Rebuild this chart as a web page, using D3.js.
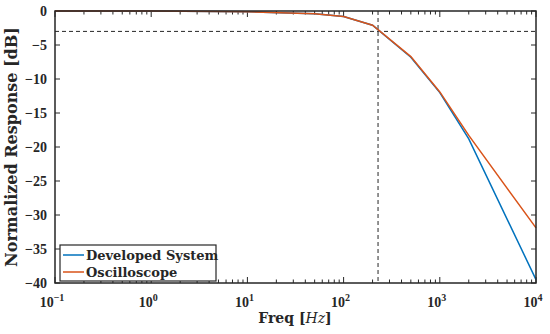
<!DOCTYPE html>
<html>
<head>
<meta charset="utf-8">
<script src="https://cdn.jsdelivr.net/npm/d3@7"></script>
<style>
  body { margin: 0; background: #fff; }
  text { font-family: "DejaVu Serif", serif; font-weight: bold; fill: #262626; }
  .tick-label { font-family: "Liberation Serif", serif; }
</style>
</head>
<body>
<div id="chart"></div>
<script>
// data
const freqs = [0.1, 1, 10, 50, 100, 200, 500, 1000, 2000, 10000];
const developed = [0, 0, -0.1, -0.4, -0.8, -2.1, -6.8, -12.0, -18.8, -39.5];
const oscilloscope = [0, 0, -0.1, -0.4, -0.8, -2.1, -6.7, -11.9, -18.3, -31.9];
const cutoffFreq = 228;
const cutoffDb = -3;
const yTicks = [0, -5, -10, -15, -20, -25, -30, -35, -40];
const xTicks = [0.1, 1, 10, 100, 1000, 10000];
const xExponents = ["\u22121", "0", "1", "2", "3", "4"];

const svgWidth = 550, svgHeight = 334;
const margin = {top: 11, right: 14, bottom: 51, left: 55};
const width = svgWidth - margin.left - margin.right;
const height = svgHeight - margin.top - margin.bottom;

let svg = d3.select("#chart")
  .append("svg")
  .attr("width", svgWidth)
  .attr("height", svgHeight)
  .append("g")
  .attr("transform", "translate(" + margin.left + "," + margin.top + ")");

var xScale = d3.scaleLog().domain([0.1, 10000]).range([0, width]);
var yScale = d3.scaleLinear().domain([-40, 0]).range([height, 0]);

// minor ticks for the log axis
var minor = [];
for (var e = -1; e < 4; e++) {
  for (var m = 2; m <= 9; m++) minor.push(m * Math.pow(10, e));
}

// ticks inside the box, on all four sides
var tickG = svg.append("g").attr("stroke", "#262626").attr("stroke-width", 1);
xTicks.concat(minor).forEach(function(f) {
  var len = xTicks.indexOf(f) >= 0 ? 6 : 3.5;
  tickG.append("line").attr("x1", xScale(f)).attr("x2", xScale(f)).attr("y1", height).attr("y2", height - len);
  tickG.append("line").attr("x1", xScale(f)).attr("x2", xScale(f)).attr("y1", 0).attr("y2", len);
});
yTicks.forEach(function(v) {
  tickG.append("line").attr("x1", 0).attr("x2", 5).attr("y1", yScale(v)).attr("y2", yScale(v));
  tickG.append("line").attr("x1", width).attr("x2", width - 5).attr("y1", yScale(v)).attr("y2", yScale(v));
});

// tick labels
svg.selectAll(".ylab").data(yTicks).enter().append("text")
  .attr("class", "tick-label")
  .attr("x", -8).attr("y", function(d) { return yScale(d) + 5; })
  .attr("text-anchor", "end").attr("font-size", 14)
  .text(function(d) { return d === 0 ? "0" : "\u2212" + Math.abs(d); });

var xl = svg.selectAll(".xlab").data(xTicks).enter().append("text")
  .attr("class", "tick-label")
  .attr("x", function(d) { return xScale(d) - 3; }).attr("y", height + 24)
  .attr("text-anchor", "middle").attr("font-size", 14);
xl.append("tspan").text("10");
xl.append("tspan").attr("dy", -6).attr("font-size", 10).text(function(d, i) { return xExponents[i]; });

// dashed -3 dB guides
svg.append("line")
  .attr("x1", 0).attr("x2", width).attr("y1", yScale(cutoffDb)).attr("y2", yScale(cutoffDb))
  .attr("stroke", "#262626").attr("stroke-width", 1).attr("stroke-dasharray", "4,3");
svg.append("line")
  .attr("x1", xScale(cutoffFreq)).attr("x2", xScale(cutoffFreq)).attr("y1", 0).attr("y2", height)
  .attr("stroke", "#262626").attr("stroke-width", 1).attr("stroke-dasharray", "4,3");

// lines
var line = d3.line()
  .x(function(d) { return xScale(d[0]); })
  .y(function(d) { return yScale(d[1]); });

svg.append("path")
  .datum(d3.zip(freqs, developed))
  .attr("fill", "none").attr("stroke", "#0072BD").attr("stroke-width", 1.5)
  .attr("d", line);
svg.append("path")
  .datum(d3.zip(freqs, oscilloscope))
  .attr("fill", "none").attr("stroke", "#D95319").attr("stroke-width", 1.5)
  .attr("d", line);

// box
svg.append("rect")
  .attr("width", width).attr("height", height)
  .attr("fill", "none").attr("stroke", "#262626").attr("stroke-width", 1.5);

// axis labels
svg.append("text")
  .attr("transform", "translate(" + (-38) + "," + (height / 2) + ") rotate(-90)")
  .attr("text-anchor", "middle").attr("font-size", 16)
  .text("Normalized Response [dB]");

var xt = svg.append("text")
  .attr("x", 295 - margin.left).attr("y", height + 40)
  .attr("text-anchor", "middle").attr("font-size", 14);
xt.append("tspan").text("Freq [");
xt.append("tspan").style("font-style", "italic").style("font-weight", "normal").text("Hz");
xt.append("tspan").text("]");

// legend
var legend = svg.append("g").attr("transform", "translate(5," + (height - 38) + ")");
legend.append("rect")
  .attr("width", 156).attr("height", 36)
  .attr("fill", "#fff").attr("stroke", "#262626").attr("stroke-width", 1.2);
var items = [["Developed System", "#0072BD"], ["Oscilloscope", "#D95319"]];
items.forEach(function(it, i) {
  var y = 10 + i * 17;
  legend.append("line").attr("x1", 3).attr("x2", 24).attr("y1", y).attr("y2", y)
    .attr("stroke", it[1]).attr("stroke-width", 1.5);
  legend.append("text").attr("x", 26).attr("y", y + 5).attr("font-size", 13).text(it[0]);
});
</script>
</body>
</html>
